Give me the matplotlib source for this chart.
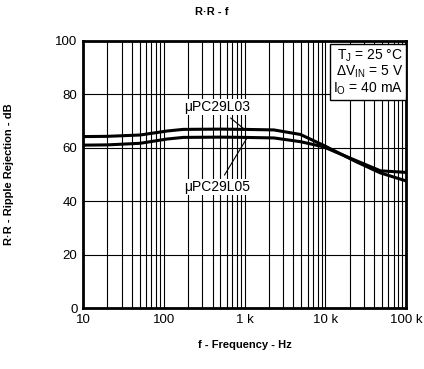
import matplotlib.pyplot as plt
import numpy as np

plt.rcParams['font.family'] = ['Liberation Sans', 'DejaVu Sans']
plt.rcParams['mathtext.fontset'] = 'custom'
plt.rcParams['mathtext.rm'] = 'Liberation Sans'
plt.rcParams['mathtext.it'] = 'Liberation Sans:italic'

# values
freq = [10, 20, 51, 110, 174, 500, 1000, 2300, 4900, 9400, 24000, 48000, 100000]
rr_l03 = [64.2, 64.3, 64.8, 66.3, 66.9, 67.0, 66.9, 66.7, 65.0, 61.0, 54.8, 50.6, 47.6]
rr_l05 = [61.0, 61.1, 61.7, 63.3, 63.9, 64.0, 63.9, 63.7, 62.3, 60.4, 55.2, 51.4, 50.8]

x_ticks = [10, 100, 1000, 10000, 100000]
x_labels = ['10', '100', '1 k', '10 k', '100 k']
y_ticks = [0, 20, 40, 60, 80, 100]

fig = plt.figure(figsize=(4.24, 3.69), dpi=100)
ax = fig.add_axes([0.196, 0.165, 0.762, 0.724])

ax.set_xscale('log')
ax.set_xlim(10, 100000)
ax.set_ylim(0, 100)

ax.plot(freq, rr_l03, color='black', linewidth=2.2, zorder=3)
ax.plot(freq, rr_l05, color='black', linewidth=2.2, zorder=3)

ax.set_xticks(x_ticks)
ax.set_xticklabels(x_labels)
ax.set_yticks(y_ticks)
ax.tick_params(axis='both', which='both', length=0, labelsize=9.5, pad=4)
ax.grid(True, which='both', axis='x', color='black', linewidth=0.8)
ax.grid(True, which='major', axis='y', color='black', linewidth=0.8)
for s in ax.spines.values():
    s.set_linewidth(2.0)

lbl_box = dict(boxstyle='square,pad=0.1', facecolor='white', edgecolor='none')
ax.annotate('\u03bcPC29L03', xy=(1015, 66.7), xytext=(457, 75.3),
            ha='center', va='center', fontsize=10, bbox=lbl_box,
            arrowprops=dict(arrowstyle='-', color='black', linewidth=0.8,
                            shrinkA=3, shrinkB=0), zorder=4)
ax.annotate('\u03bcPC29L05', xy=(1070, 63.7), xytext=(457, 45.3),
            ha='center', va='center', fontsize=10, bbox=lbl_box,
            arrowprops=dict(arrowstyle='-', color='black', linewidth=0.8,
                            shrinkA=3, shrinkB=0), zorder=4)

ax.text(0.99, 0.975,
        'T$_\\mathregular{J}$ = 25 \u00b0C\n\u0394V$_\\mathregular{IN}$ = 5 V\nI$_\\mathregular{O}$ = 40 mA',
        transform=ax.transAxes, ha='right', va='top', fontsize=10, linespacing=1.0,
        bbox=dict(boxstyle='square,pad=0.25', facecolor='white', edgecolor='black', linewidth=1.0),
        zorder=5)

fig.text(0.5, 0.967, 'R\u00b7R - f', ha='center', va='center', fontsize=8, fontweight='bold')
ax.set_xlabel('f - Frequency - Hz', fontsize=8, fontweight='bold', labelpad=10)
ax.set_ylabel('R\u00b7R - Ripple Rejection - dB', fontsize=8, fontweight='bold', labelpad=30)

plt.savefig('out.png', dpi=100)
